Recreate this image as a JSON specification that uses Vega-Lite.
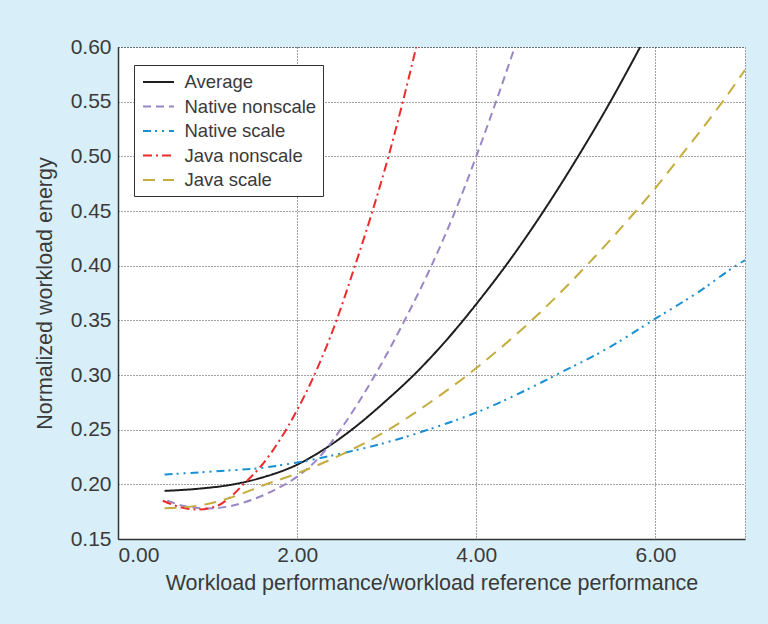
{
  "$schema": "https://vega.github.io/schema/vega-lite/v6.json",
  "width": 627,
  "height": 492,
  "autosize": "none",
  "padding": {"left": 118, "top": 47, "right": 23, "bottom": 85},
  "background": "#d8eff9",
  "config": {
    "font": "Liberation Sans",
    "view": {"fill": "white", "stroke": "#444", "strokeDash": [1, 2], "strokeWidth": 1},
    "axis": {
      "labelFont": "Liberation Sans",
      "titleFont": "Liberation Sans",
      "labelFontSize": 21,
      "titleFontSize": 21.5,
      "labelColor": "#3a3a3a",
      "titleColor": "#3a3a3a",
      "labelFontWeight": "normal",
      "titleFontWeight": "normal",
      "domainColor": "#333",
      "domainWidth": 1.5,
      "ticks": false,
      "gridColor": "#444",
      "gridDash": [1, 2],
      "gridWidth": 1,
      "gridOpacity": 1
    },
    "legend": {
      "title": null,
      "orient": "none",
      "legendX": 16,
      "legendY": 18,
      "padding": 6,
      "fillColor": "white",
      "strokeColor": "#333",
      "labelFont": "Liberation Sans",
      "labelFontSize": 18.5,
      "labelColor": "#3a3a3a",
      "labelOffset": 15,
      "rowPadding": 3.5,
      "symbolType": "M-1.55,0H1.55",
      "symbolSize": 400,
      "symbolOffset": 7.5,
      "symbolStrokeWidth": 2
    }
  },
  "data": {
    "values": [
      {"x": 0.52, "y": 0.194, "series": "Average"},
      {"x": 0.9, "y": 0.196, "series": "Average"},
      {"x": 1.29, "y": 0.2, "series": "Average"},
      {"x": 1.6, "y": 0.206, "series": "Average"},
      {"x": 2.0, "y": 0.218, "series": "Average"},
      {"x": 2.3, "y": 0.232, "series": "Average"},
      {"x": 2.61, "y": 0.25, "series": "Average"},
      {"x": 3.0, "y": 0.277, "series": "Average"},
      {"x": 3.29, "y": 0.299, "series": "Average"},
      {"x": 3.7, "y": 0.335, "series": "Average"},
      {"x": 4.04, "y": 0.369, "series": "Average"},
      {"x": 4.4, "y": 0.408, "series": "Average"},
      {"x": 4.76, "y": 0.451, "series": "Average"},
      {"x": 5.13, "y": 0.499, "series": "Average"},
      {"x": 5.49, "y": 0.549, "series": "Average"},
      {"x": 5.83, "y": 0.6, "series": "Average"},

      {"x": 0.55, "y": 0.185, "series": "Native nonscale"},
      {"x": 0.75, "y": 0.18, "series": "Native nonscale"},
      {"x": 1.0, "y": 0.178, "series": "Native nonscale"},
      {"x": 1.25, "y": 0.18, "series": "Native nonscale"},
      {"x": 1.5, "y": 0.186, "series": "Native nonscale"},
      {"x": 1.75, "y": 0.195, "series": "Native nonscale"},
      {"x": 2.0, "y": 0.207, "series": "Native nonscale"},
      {"x": 2.25, "y": 0.225, "series": "Native nonscale"},
      {"x": 2.5, "y": 0.252, "series": "Native nonscale"},
      {"x": 2.87, "y": 0.3, "series": "Native nonscale"},
      {"x": 3.2, "y": 0.35, "series": "Native nonscale"},
      {"x": 3.5, "y": 0.4, "series": "Native nonscale"},
      {"x": 3.75, "y": 0.447, "series": "Native nonscale"},
      {"x": 4.0, "y": 0.5, "series": "Native nonscale"},
      {"x": 4.22, "y": 0.55, "series": "Native nonscale"},
      {"x": 4.43, "y": 0.6, "series": "Native nonscale"},

      {"x": 0.52, "y": 0.209, "series": "Native scale"},
      {"x": 1.1, "y": 0.212, "series": "Native scale"},
      {"x": 1.6, "y": 0.215, "series": "Native scale"},
      {"x": 2.0, "y": 0.22, "series": "Native scale"},
      {"x": 2.59, "y": 0.23, "series": "Native scale"},
      {"x": 3.07, "y": 0.24, "series": "Native scale"},
      {"x": 3.5, "y": 0.251, "series": "Native scale"},
      {"x": 4.04, "y": 0.267, "series": "Native scale"},
      {"x": 4.5, "y": 0.284, "series": "Native scale"},
      {"x": 4.89, "y": 0.3, "series": "Native scale"},
      {"x": 5.5, "y": 0.326, "series": "Native scale"},
      {"x": 5.97, "y": 0.35, "series": "Native scale"},
      {"x": 6.5, "y": 0.377, "series": "Native scale"},
      {"x": 6.9, "y": 0.4, "series": "Native scale"},
      {"x": 7.0, "y": 0.405, "series": "Native scale"},

      {"x": 0.5, "y": 0.185, "series": "Java nonscale"},
      {"x": 0.7, "y": 0.179, "series": "Java nonscale"},
      {"x": 0.9, "y": 0.177, "series": "Java nonscale"},
      {"x": 1.1, "y": 0.18, "series": "Java nonscale"},
      {"x": 1.25, "y": 0.188, "series": "Java nonscale"},
      {"x": 1.4, "y": 0.2, "series": "Java nonscale"},
      {"x": 1.6, "y": 0.217, "series": "Java nonscale"},
      {"x": 1.81, "y": 0.241, "series": "Java nonscale"},
      {"x": 2.0, "y": 0.268, "series": "Java nonscale"},
      {"x": 2.17, "y": 0.296, "series": "Java nonscale"},
      {"x": 2.44, "y": 0.35, "series": "Java nonscale"},
      {"x": 2.63, "y": 0.396, "series": "Java nonscale"},
      {"x": 2.83, "y": 0.447, "series": "Java nonscale"},
      {"x": 3.02, "y": 0.5, "series": "Java nonscale"},
      {"x": 3.18, "y": 0.55, "series": "Java nonscale"},
      {"x": 3.33, "y": 0.6, "series": "Java nonscale"},

      {"x": 0.52, "y": 0.178, "series": "Java scale"},
      {"x": 1.0, "y": 0.182, "series": "Java scale"},
      {"x": 1.3, "y": 0.189, "series": "Java scale"},
      {"x": 1.62, "y": 0.199, "series": "Java scale"},
      {"x": 2.0, "y": 0.21, "series": "Java scale"},
      {"x": 2.59, "y": 0.231, "series": "Java scale"},
      {"x": 3.0, "y": 0.249, "series": "Java scale"},
      {"x": 3.45, "y": 0.273, "series": "Java scale"},
      {"x": 3.87, "y": 0.298, "series": "Java scale"},
      {"x": 4.04, "y": 0.309, "series": "Java scale"},
      {"x": 4.58, "y": 0.347, "series": "Java scale"},
      {"x": 5.23, "y": 0.4, "series": "Java scale"},
      {"x": 5.75, "y": 0.447, "series": "Java scale"},
      {"x": 6.0, "y": 0.471, "series": "Java scale"},
      {"x": 6.27, "y": 0.499, "series": "Java scale"},
      {"x": 6.75, "y": 0.55, "series": "Java scale"},
      {"x": 7.0, "y": 0.579, "series": "Java scale"}
    ]
  },
  "mark": {"type": "line", "strokeWidth": 2, "clip": true, "interpolate": "monotone"},
  "encoding": {
    "x": {
      "field": "x",
      "type": "quantitative",
      "scale": {"domain": [0, 7], "nice": false, "zero": false},
      "axis": {
        "values": [0, 2, 4, 6],
        "format": ".2f",
        "title": "Workload performance/workload reference performance",
        "labelPadding": 5,
        "titleY": 50,
        "titleBaseline": "alphabetic"
      }
    },
    "y": {
      "field": "y",
      "type": "quantitative",
      "scale": {"domain": [0.15, 0.6], "nice": false, "zero": false},
      "axis": {
        "values": [0.15, 0.2, 0.25, 0.3, 0.35, 0.4, 0.45, 0.5, 0.55, 0.6],
        "format": ".2f",
        "title": "Normalized workload energy",
        "labelPadding": 7,
        "titleX": -67,
        "titleBaseline": "alphabetic"
      }
    },
    "color": {
      "field": "series",
      "type": "nominal",
      "scale": {
        "domain": ["Average", "Native nonscale", "Native scale", "Java nonscale", "Java scale"],
        "range": ["#1e1e1e", "#9a86c5", "#1a8fd3", "#ee2a2a", "#c4ad3d"]
      }
    },
    "strokeDash": {
      "field": "series",
      "type": "nominal",
      "scale": {
        "domain": ["Average", "Native nonscale", "Native scale", "Java nonscale", "Java scale"],
        "range": [[1, 0], [8, 5], [8, 4, 2, 5, 2, 5], [9, 4, 2, 4], [12, 8]]
      }
    }
  }
}
